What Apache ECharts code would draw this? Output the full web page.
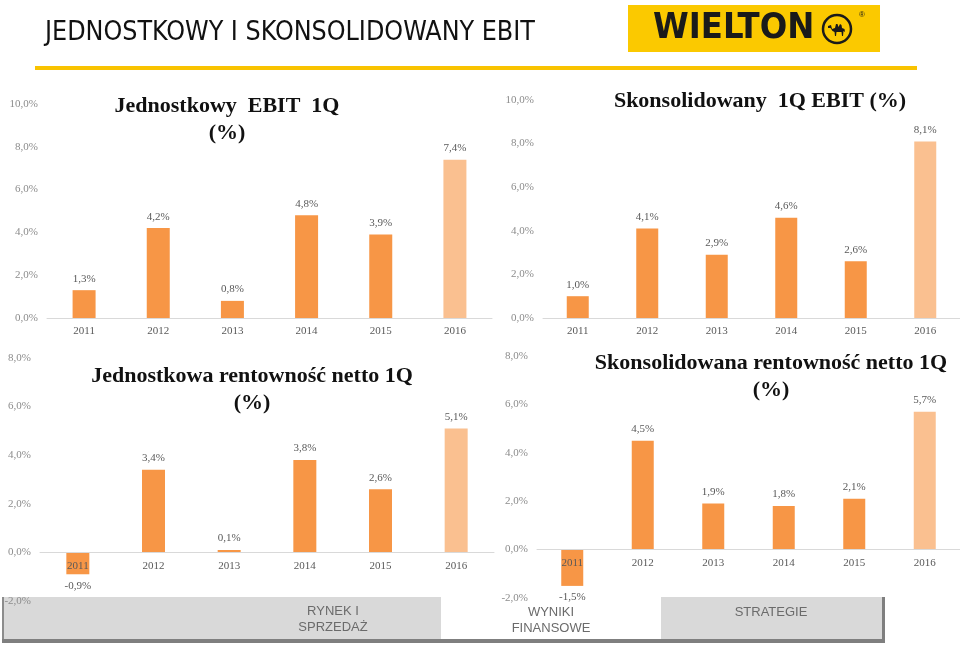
<!DOCTYPE html>
<html>
<head>
<meta charset="utf-8">
<title>Jednostkowy i skonsolidowany EBIT</title>
<script src="https://cdn.jsdelivr.net/npm/echarts@6/dist/echarts.min.js"></script>
<style>
html,body{margin:0;padding:0;background:#fff;}
#main{width:960px;height:647px;}
</style>
</head>
<body>
<div id="main"></div>
<script>
// dane z wykresow (%)
var years = ['2011', '2012', '2013', '2014', '2015', '2016'];
var ebitJednostkowy = [1.3, 4.2, 0.8, 4.8, 3.9, 7.4];
var ebitSkonsolidowany = [1.0, 4.1, 2.9, 4.6, 2.6, 8.1];
var netJednostkowa = [-0.9, 3.4, 0.1, 3.8, 2.6, 5.1];
var netSkonsolidowana = [-1.5, 4.5, 1.9, 1.8, 2.1, 5.7];
var ebitTicks = [0, 2, 4, 6, 8, 10];
var netTicks = [-2, 0, 2, 4, 6, 8];

var SERIF = '"Liberation Serif", "DejaVu Serif", serif';
var SANS = 'Arial, "Liberation Sans", sans-serif';
var ORANGE = '#F79646', ORANGE_LIGHT = '#FAC090';

function fmt(v){
	return v.toFixed(1).replace('.', ',') + '%';
}

// panel: pozycja siatki + dane
var panels = [
	{ grid:{left:47, top:104, width:445, height:214}, ticks:ebitTicks, values:ebitJednostkowy, barWidth:23,
	  title:'Jednostkowy  EBIT  1Q\n(%)', tx:227, ty:120 },
	{ grid:{left:543, top:100, width:417, height:218}, ticks:ebitTicks, values:ebitSkonsolidowany, barWidth:22,
	  title:'Skonsolidowany  1Q EBIT (%)', tx:760, ty:101 },
	{ grid:{left:40, top:358, width:454, height:243}, ticks:netTicks, values:netJednostkowa, barWidth:23,
	  title:'Jednostkowa rentowność netto 1Q\n(%)', tx:252, ty:390 },
	{ grid:{left:537, top:356, width:423, height:242}, ticks:netTicks, values:netSkonsolidowana, barWidth:22,
	  title:'Skonsolidowana rentowność netto 1Q\n(%)', tx:771, ty:377 }
];

function barData(values){
	return values.map(function(v, i){
		var d = {value: v};
		if(i == values.length - 1)
			d.itemStyle = {color: ORANGE_LIGHT};
		if(v < 0)
			d.label = {position: 'bottom'};
		return d;
	});
}

var grids = [], xAxes = [], yAxes = [], series = [], graphics = [];

panels.forEach(function(p, i){
	var lo = p.ticks[0], hi = p.ticks[p.ticks.length - 1];
	// os X na poziomie zera (razem z etykietami)
	var zeroOffset = -p.grid.height * (0 - lo) / (hi - lo);
	grids.push(p.grid);
	xAxes.push({
		type: 'category', gridIndex: i, data: years, position: 'bottom', offset: zeroOffset, z: 5,
		axisLine: {onZero: false, lineStyle: {color: '#D9D9D9', width: 1}},
		axisTick: {show: false},
		axisLabel: {color: '#595959', fontFamily: SERIF, fontSize: 11, margin: 8}
	});
	yAxes.push({
		type: 'value', gridIndex: i,
		min: lo, max: hi, interval: p.ticks[1] - p.ticks[0],
		axisLine: {show: false}, axisTick: {show: false}, splitLine: {show: false},
		axisLabel: {color: '#8C8C8C', fontFamily: SERIF, fontSize: 11, margin: 9, formatter: fmt}
	});
	series.push({
		type: 'bar', xAxisIndex: i, yAxisIndex: i, barWidth: p.barWidth,
		itemStyle: {color: ORANGE},
		label: {show: true, position: 'top', distance: 6, color: '#595959',
			fontFamily: SERIF, fontSize: 11, formatter: function(o){ return fmt(o.value); }},
		data: barData(p.values)
	});
	graphics.push({
		type: 'text', x: p.tx, y: p.ty, z: 10,
		style: {text: p.title, fill: '#111', font: 'bold 22px ' + SERIF, lineHeight: 27,
			textAlign: 'center', textVerticalAlign: 'middle'}
	});
});

// naglowek, logo i pasek nawigacji
graphics = graphics.concat([
	{ type: 'text', x: 45, y: 33, scaleX: 0.984,
	  style: {text: 'JEDNOSTKOWY I SKONSOLIDOWANY EBIT', fill: '#111',
		font: '27px "Liberation Sans Narrow", "DejaVu Sans Condensed", Arial, sans-serif',
		textAlign: 'left', textVerticalAlign: 'middle'} },
	{ type: 'rect', shape: {x: 35, y: 66, width: 882, height: 4}, style: {fill: '#F9C300'} },
	{ type: 'rect', shape: {x: 628, y: 5, width: 252, height: 47}, style: {fill: '#FBC900'} },
	{ type: 'text', x: 653, y: 29, scaleX: 1.0,
	  style: {text: 'WIELTON', fill: '#1A1A1A',
		font: 'bold 36px "DejaVu Sans Condensed", "Liberation Sans Narrow", sans-serif',
		textAlign: 'left', textVerticalAlign: 'middle'} },
	{ type: 'circle', shape: {cx: 837, cy: 29, r: 14}, style: {fill: '#FBC900', stroke: '#1A1A1A', lineWidth: 2.5} },
	{ type: 'polygon', x: 837, y: 29,
	  shape: {points: [[-9,-3],[-6,-4],[-5,0],[-2,-1],[-1,-5],[0.5,-5],[1.5,-2],[3,-5],[4.5,-4],[5,-1],[7.5,0],[8,3],[6.5,2],[6,7],[5,7],[4.5,3],[-0.5,3],[-1,7],[-2,7],[-2.5,3],[-4.5,2],[-6.5,-1],[-9,-1]]},
	  style: {fill: '#1A1A1A'} },
	{ type: 'text', x: 862, y: 15, style: {text: '®', fill: '#1A1A1A', font: '8px ' + SANS, textAlign: 'center', textVerticalAlign: 'middle'} },

	{ type: 'rect', z: -10, shape: {x: 3, y: 597, width: 438, height: 42}, style: {fill: '#D9D9D9'} },
	{ type: 'rect', z: -10, shape: {x: 2, y: 597, width: 2, height: 44}, style: {fill: '#8C8C8C'} },
	{ type: 'rect', z: -10, shape: {x: 661, y: 597, width: 221, height: 42}, style: {fill: '#D9D9D9'} },
	{ type: 'rect', z: -10, shape: {x: 882, y: 597, width: 3, height: 46}, style: {fill: '#7F7F7F'} },
	{ type: 'rect', z: -10, shape: {x: 2, y: 639, width: 883, height: 4}, style: {fill: '#7F7F7F'} },
	{ type: 'text', x: 333, y: 619, z: -5,
	  style: {text: 'RYNEK I\nSPRZEDAŻ', fill: '#6B6B6B', font: '13px ' + SANS, lineHeight: 16,
		textAlign: 'center', textVerticalAlign: 'middle'} },
	{ type: 'text', x: 551, y: 620, z: -5,
	  style: {text: 'WYNIKI\nFINANSOWE', fill: '#6B6B6B', font: '13px ' + SANS, lineHeight: 16,
		textAlign: 'center', textVerticalAlign: 'middle'} },
	{ type: 'text', x: 771, y: 612, z: -5,
	  style: {text: 'STRATEGIE', fill: '#6B6B6B', font: '13px ' + SANS,
		textAlign: 'center', textVerticalAlign: 'middle'} }
]);

var myChart = echarts.init(document.getElementById('main'));
var option = {
	animation: false,
	grid: grids,
	xAxis: xAxes,
	yAxis: yAxes,
	series: series,
	graphic: {elements: graphics}
};
myChart.setOption(option, true);
</script>
</body>
</html>
